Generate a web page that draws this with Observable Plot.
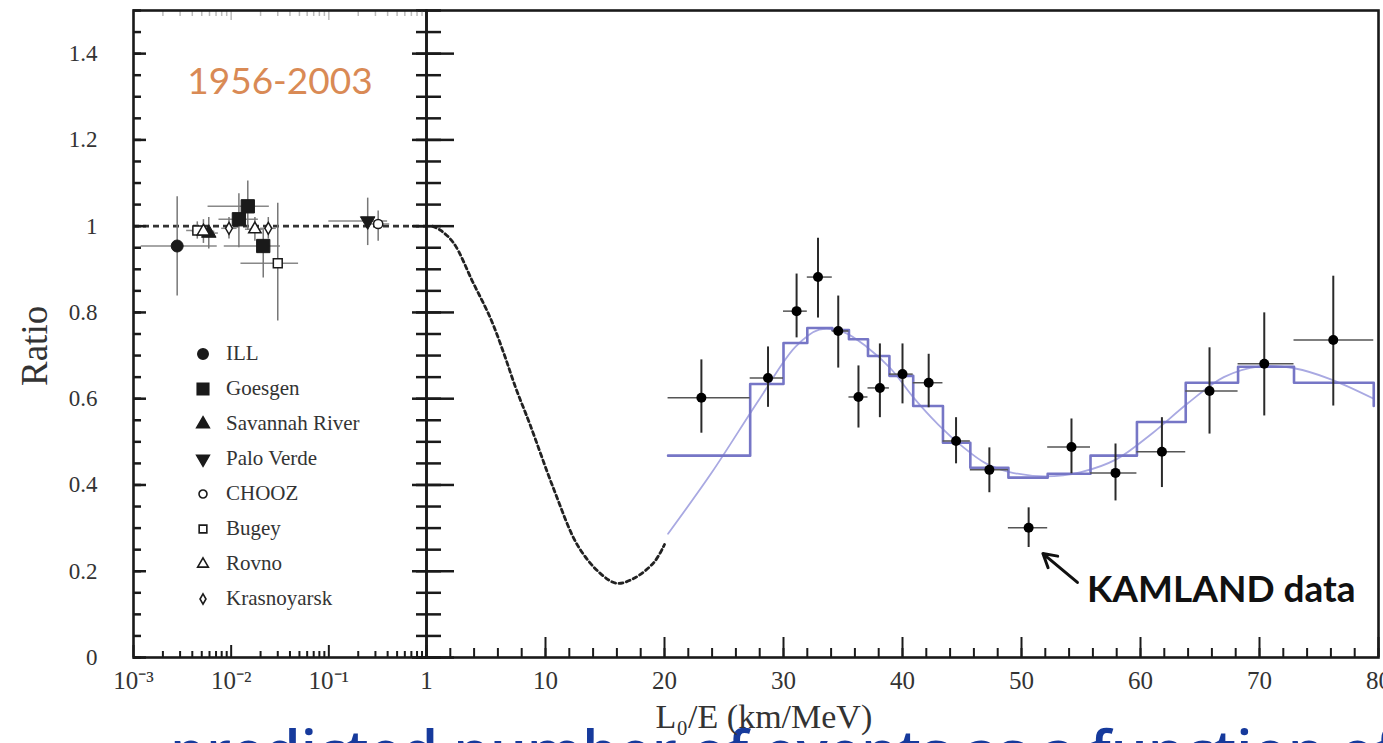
<!DOCTYPE html>
<html><head><meta charset="utf-8">
<script src="https://cdn.jsdelivr.net/npm/d3@7"></script>
<script src="https://cdn.jsdelivr.net/npm/@observablehq/plot@0.6"></script>
<style>
body{margin:0;width:1383px;height:743px;overflow:hidden;background:#fff;position:relative;font-family:"Liberation Serif",serif;}
#left,#right{position:absolute;top:0;}
#left{left:0px} #right{left:426px}
svg{overflow:visible}
#legend{position:absolute;left:192px;top:336px;}
.item{display:flex;align-items:center;height:35px;font-size:21px;color:#333;font-family:"Liberation Serif",serif}
.item svg{width:22px;height:22px;margin-right:12px}
#bottom{position:absolute;left:170px;top:721px;color:#163a9c;font-family:"Open Sans",sans-serif;font-weight:600;font-size:58px;white-space:nowrap;line-height:1}
</style></head>
<body>
<div id="bottom">predicted number of events as a function of distance</div>
<div id="left"></div><div id="right"></div>
<div id="legend"></div>
<script>
// ---------- axis ticks ----------
const yMajor = [0, 0.2, 0.4, 0.6, 0.8, 1, 1.2, 1.4];
const yMinor = d3.range(0, 31).map(i => i * 0.05);
const logMajor = [0.001, 0.01, 0.1, 1];
const logLabels = ["10\u207B\u00B3", "10\u207B\u00B2", "10\u207B\u00B9", "1"];
const logMinor = [0.001, 0.01, 0.1].flatMap(d => [2,3,4,5,6,7,8,9].map(k => d * k));
const linMajor = [10, 20, 30, 40, 50, 60, 70, 80];
const linMinor = d3.range(0, 81, 2);

// ---------- left panel: 1956-2003 reactor experiments ----------
const expNames   = ["ILL", "Goesgen", "Savannah River", "Palo Verde", "CHOOZ", "Bugey", "Rovno", "Krasnoyarsk"];
const expShapes  = ["circle", "square", "triangle", "triangleDown", "circle", "square", "triangle", "diamond"];
const expFilled  = [true, true, true, true, false, false, false, false];
const expRadius  = [6, 7.5, 5.4, 5.4, 4.6, 5, 4.6, 3.6];

const ptExp = ["ILL", "Goesgen", "Goesgen", "Goesgen", "Savannah River", "Palo Verde", "CHOOZ", "Bugey", "Bugey", "Rovno", "Rovno", "Krasnoyarsk", "Krasnoyarsk"];
const ptX   = [0.0028, 0.012, 0.0148, 0.0213, 0.0059, 0.25, 0.32, 0.030, 0.0045, 0.0052, 0.0175, 0.0095, 0.024];
const ptY   = [0.954, 1.016, 1.046, 0.954, 0.984, 1.012, 1.005, 0.914, 0.99, 0.988, 0.993, 0.995, 0.995];
const ptYlo = [0.838, 0.95, 0.99, 0.88, 0.947, 0.955, 0.965, 0.78, 0.97, 0.96, 0.965, 0.97, 0.97];
const ptYhi = [1.068, 1.075, 1.105, 0.99, 1.02, 1.065, 1.035, 1.053, 1.01, 1.015, 1.02, 1.02, 1.02];
const ptXlo = [0.0012, 0.0075, 0.0058, 0.0085, 0.0047, 0.1, 0.25, 0.0126, 0.0035, 0.004, 0.014, 0.008, 0.02];
const ptXhi = [0.0072, 0.019, 0.0246, 0.032, 0.0074, 0.4, 0.42, 0.049, 0.0058, 0.0068, 0.022, 0.0115, 0.029];
const noOscillation = [1];

// ---------- right panel: KamLAND ----------
const kamX   = [23.1, 28.7, 31.1, 32.9, 34.6, 36.3, 38.1, 40.0, 42.2, 44.5, 47.3, 50.6, 54.2, 57.9, 61.8, 65.8, 70.4, 76.2];
const kamY   = [0.602, 0.648, 0.803, 0.882, 0.757, 0.604, 0.625, 0.657, 0.637, 0.502, 0.435, 0.301, 0.488, 0.428, 0.477, 0.618, 0.681, 0.736];
const kamYlo = [0.52, 0.58, 0.741, 0.787, 0.671, 0.532, 0.556, 0.588, 0.579, 0.449, 0.382, 0.255, 0.426, 0.363, 0.394, 0.518, 0.56, 0.583];
const kamYhi = [0.69, 0.72, 0.889, 0.972, 0.838, 0.676, 0.727, 0.727, 0.703, 0.556, 0.486, 0.347, 0.553, 0.495, 0.556, 0.718, 0.799, 0.884];
const kamXlo = [20.3, 27.2, 30.0, 32.0, 34.1, 35.5, 37.1, 38.9, 40.9, 43.4, 45.7, 48.9, 52.2, 55.8, 59.7, 63.8, 68.2, 72.9];
const kamXhi = [27.2, 30.0, 32.0, 34.1, 35.5, 37.1, 38.9, 40.9, 43.4, 45.7, 48.9, 52.2, 55.8, 59.7, 63.8, 68.2, 72.9, 79.6];

const histEdges  = [20.3, 27.2, 30.0, 32.0, 34.1, 35.5, 37.1, 38.9, 40.9, 43.4, 45.7, 48.9, 52.2, 55.8, 59.7, 63.8, 68.2, 72.9, 79.6];
const histValues = [0.468, 0.634, 0.729, 0.764, 0.759, 0.738, 0.699, 0.653, 0.583, 0.498, 0.440, 0.417, 0.426, 0.468, 0.546, 0.637, 0.674, 0.637, 0.583];

const fitX = [20.3, 24, 28, 31, 33, 35, 37, 39, 41, 43, 45, 47, 49, 52, 55, 58, 61, 64, 67, 70, 73, 76, 79.6];
const fitY = [0.287, 0.43, 0.6, 0.72, 0.76, 0.755, 0.72, 0.67, 0.6, 0.54, 0.49, 0.45, 0.43, 0.42, 0.43, 0.46, 0.52, 0.59, 0.65, 0.675, 0.67, 0.645, 0.6];

const oscX = [0.5, 1.2, 2.3, 3.9, 5.4, 6.5, 7.5, 8.7, 10.7, 12.7, 14.6, 16.0, 17.4, 19.1, 20.0];
const oscY = [1.0, 0.99, 0.96, 0.87, 0.785, 0.705, 0.625, 0.54, 0.39, 0.26, 0.195, 0.172, 0.183, 0.22, 0.262];

const periodLabel = "1956-2003";
const kamlandNote = {text: "KAMLAND data", x: 55.5, y: 0.155, ax1: 54.7, ay1: 0.174, ax2: 51.8, ay2: 0.241};

// ---------- build tables ----------
const sqrt3 = Math.sqrt(3);
const triangleDown = {draw(ctx, size) {
  const y = -Math.sqrt(size / (sqrt3 * 3));
  ctx.moveTo(0, -y * 2); ctx.lineTo(-sqrt3 * y, y); ctx.lineTo(sqrt3 * y, y); ctx.closePath();
}};
const d3Shape = {circle: d3.symbolCircle, square: d3.symbolSquare, triangle: d3.symbolTriangle, triangleDown, diamond: d3.symbolDiamond};
const plotShape = s => s === "triangleDown" ? triangleDown : s;

const pts = ptExp.map((e, i) => ({exp: e, x: ptX[i], y: ptY[i], ylo: ptYlo[i], yhi: ptYhi[i], xlo: ptXlo[i], xhi: ptXhi[i]}));
const kam = kamX.map((x, i) => ({x, y: kamY[i], ylo: kamYlo[i], yhi: kamYhi[i], xlo: kamXlo[i], xhi: kamXhi[i]}));
const hist = histEdges.map((x, i) => ({x, y: histValues[i]}));
const fit = fitX.map((x, i) => ({x, y: fitY[i]}));
const osc = oscX.map((x, i) => ({x, y: oscY[i]}));

const ink = "#1a1a1a";
const serif = "Liberation Serif";
const common = {height: 743, marginTop: 10, marginBottom: 86, y: {domain: [0, 1.5]}, style: {background: "transparent", overflow: "visible"}};

const expDots = expNames.map((name, k) => Plot.dot(pts.filter(d => d.exp === name), {
  x: "x", y: "y", r: expRadius[k], symbol: plotShape(expShapes[k]),
  fill: expFilled[k] ? ink : "white", stroke: ink, strokeWidth: expFilled[k] ? 1 : 1.5
}));

const left = Plot.plot({
  ...common, width: 426, marginLeft: 133, marginRight: 0,
  x: {type: "log", domain: [1e-3, 1]},
  marks: [
    Plot.ruleY(noOscillation, {y: d => d, stroke: "#333", strokeWidth: 2.6, strokeDasharray: "6,4"}),
    Plot.ruleY(pts, {y: "y", x1: "xlo", x2: "xhi", stroke: "#888", strokeWidth: 1.5}),
    Plot.ruleX(pts, {x: "x", y1: "ylo", y2: "yhi", stroke: "#777", strokeWidth: 1.5}),
    ...expDots,
    Plot.axisY({anchor: "left", ticks: yMinor, tickSize: -8, text: null, strokeWidth: 2.5, stroke: ink}),
    Plot.axisY({anchor: "left", ticks: yMajor, tickSize: -13, text: null, strokeWidth: 2.5, stroke: ink}),
    Plot.axisY({anchor: "left", ticks: yMajor, tickSize: 0, tickPadding: 36, label: null,
      tickFormat: d => String(+d.toFixed(1)), fontSize: 23, fontFamily: serif, fill: "#333"}),
    Plot.axisY({anchor: "right", ticks: yMinor, tickSize: -11, text: null, strokeWidth: 2.5, stroke: ink, label: null}),
    Plot.axisY({anchor: "right", ticks: yMajor, tickSize: -15, text: null, strokeWidth: 2.5, stroke: ink, label: null}),
    Plot.axisX({anchor: "bottom", ticks: logMinor, tickSize: -6, text: null, strokeWidth: 2, stroke: ink}),
    Plot.axisX({anchor: "bottom", ticks: logMajor, tickSize: -12, text: null, strokeWidth: 2, stroke: ink}),
    Plot.axisX({anchor: "bottom", ticks: logMajor, tickSize: 0, tickPadding: 14, label: null,
      tickFormat: d => logLabels[logMajor.indexOf(d)], fontSize: 25, fontFamily: serif, fill: "#333"}),
    Plot.axisX({anchor: "top", ticks: logMinor, tickSize: -5, text: null, strokeWidth: 1.5, stroke: "#bbb", label: null}),
    Plot.axisX({anchor: "top", ticks: logMajor, tickSize: -9, text: null, strokeWidth: 1.5, stroke: "#bbb", label: null}),
    Plot.text([periodLabel], {frameAnchor: "top", dy: 57, text: d => d, fontSize: 37, fontFamily: "Lato", fill: "#d98a55"}),
    Plot.text(["Ratio"], {frameAnchor: "left", dx: -98, dy: 52, rotate: -90, text: d => d, fontSize: 37, fontFamily: serif, fill: "#333"}),
    Plot.frame({stroke: ink, strokeWidth: 2.6})
  ]
});
document.getElementById("left").append(left);

const right = Plot.plot({
  ...common, width: 957, marginLeft: 0, marginRight: 5,
  x: {domain: [0, 80]},
  marks: [
    Plot.line(osc, {x: "x", y: "y", curve: "catmull-rom", stroke: "#222", strokeWidth: 2.8, strokeDasharray: "4,3.5"}),
    Plot.line(fit, {x: "x", y: "y", curve: "catmull-rom", stroke: "#a9a9e2", strokeWidth: 1.8}),
    Plot.line(hist, {x: "x", y: "y", curve: "step-after", stroke: "#7676c6", strokeWidth: 2.6}),
    Plot.ruleY(kam, {y: "y", x1: "xlo", x2: "xhi", stroke: "#555", strokeWidth: 1.5}),
    Plot.ruleX(kam, {x: "x", y1: "ylo", y2: "yhi", stroke: "#2a2a2a", strokeWidth: 2}),
    Plot.dot(kam, {x: "x", y: "y", r: 5, fill: "#000"}),
    Plot.arrow([kamlandNote], {x1: "ax1", y1: "ay1", x2: "ax2", y2: "ay2", stroke: "#111", strokeWidth: 3, headLength: 14}),
    Plot.text([kamlandNote], {x: "x", y: "y", text: "text", textAnchor: "start", fontSize: 37, fontWeight: 700, fontFamily: "Lato", fill: "#111"}),
    Plot.axisY({anchor: "left", ticks: yMinor, tickSize: -15, text: null, strokeWidth: 2.5, stroke: ink, label: null}),
    Plot.axisY({anchor: "left", ticks: yMajor, tickSize: -28, text: null, strokeWidth: 2.5, stroke: ink, label: null}),
    Plot.axisX({anchor: "bottom", ticks: linMinor, tickSize: -9, text: null, strokeWidth: 2, stroke: ink}),
    Plot.axisX({anchor: "bottom", ticks: linMajor, tickSize: -20, text: null, strokeWidth: 2, stroke: ink}),
    Plot.axisX({anchor: "bottom", ticks: linMajor, tickSize: 0, tickPadding: 14, label: null,
      fontSize: 25, fontFamily: serif, fill: "#333"}),
    Plot.text(["L\u2080/E (km/MeV)"], {frameAnchor: "bottom-left", dx: 229, dy: 70, text: d => d, fontSize: 34, fontFamily: serif, fill: "#333"}),
    Plot.frame({stroke: ink, strokeWidth: 2.6})
  ]
});
document.getElementById("right").append(right);

// ---------- legend ----------
const legend = document.getElementById("legend");
expNames.forEach((name, k) => {
  const row = document.createElement("div");
  row.className = "item";
  const size = Math.PI * expRadius[k] * expRadius[k] * 0.75;
  const path = d3.symbol(d3Shape[expShapes[k]], size)();
  row.innerHTML = `<svg viewBox="-11 -11 22 22"><path d="${path}" fill="${expFilled[k] ? ink : "white"}" stroke="${ink}" stroke-width="1.6"/></svg><span>${name}</span>`;
  legend.append(row);
});
</script>
</body></html>
